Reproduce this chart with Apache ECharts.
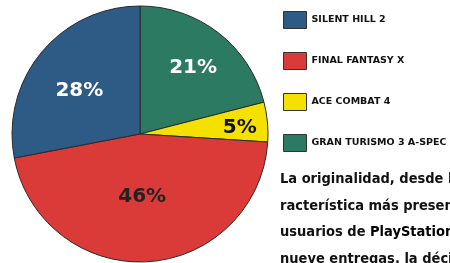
<!DOCTYPE html>
<html><head><meta charset="utf-8">
<script src="https://cdn.jsdelivr.net/npm/echarts@6/dist/echarts.min.js"></script>
<style>html,body{margin:0;padding:0;background:#fff}#c{width:450px;height:263px}</style>
</head><body><div id="c"></div>
<script>
// Drawing order (clockwise from 12 o'clock)
const games = ['GRAN TURISMO 3 A-SPEC', 'ACE COMBAT 4', 'FINAL FANTASY X', 'SILENT HILL 2'];
const shares = [21, 5, 46, 28];
const legendOrder = ['SILENT HILL 2', 'FINAL FANTASY X', 'ACE COMBAT 4', 'GRAN TURISMO 3 A-SPEC'];
const paragraph = [
  'La originalidad, desde la ca-',
  'racterística más presente en los',
  'usuarios de {b|PlayStation} 2 tras',
  'nueve entregas, la décima'
];

const colors = ['#2d7a62', '#f4e100', '#db3b38', '#2e5a86'];
const labelColors = ['#ffffff', '#111111', '#222222', '#ffffff'];
const labelOffsets = [[12, -13], [33, 0], [-2, -4], [-9, 0]];

const chart = echarts.init(document.getElementById('c'));
chart.setOption({
  animation: false,
  backgroundColor: '#ffffff',
  legend: {
    orient: 'vertical', left: 278, top: 6,
    itemWidth: 23, itemHeight: 17, itemGap: 23,
    data: legendOrder,
    icon: 'rect',
    itemStyle: { borderColor: '#333', borderWidth: 1 },
    textStyle: { fontFamily: 'DejaVu Sans', fontWeight: 'bold', fontSize: 9.5, color: '#111' }
  },
  graphic: paragraph.map((line, i) => ({
    type: 'text', left: 280, top: 172 + i * 26.5, silent: true,
    style: {
      text: line,
      fontFamily: 'DejaVu Sans Condensed', fontWeight: 'bold', fontSize: 14.5, fill: '#111',
      rich: { b: { fontFamily: 'DejaVu Sans Condensed', fontWeight: 'bold', fontSize: 14.5, fill: '#000' } }
    }
  })),
  series: [{
    type: 'pie', center: [140, 134], radius: 128, startAngle: 90, clockwise: true,
    avoidLabelOverlap: false,
    itemStyle: { borderColor: '#2a2a2a', borderWidth: 1 },
    labelLine: { show: false },
    data: games.map((g, i) => ({
      name: g, value: shares[i],
      itemStyle: { color: colors[i] },
      label: {
        show: true, position: 'inside', formatter: '{c}%',
        color: labelColors[i], offset: labelOffsets[i],
        fontFamily: 'DejaVu Sans', fontWeight: 'bold', fontSize: 20,
        textBorderWidth: 0
      }
    }))
  }]
});
</script></body></html>
